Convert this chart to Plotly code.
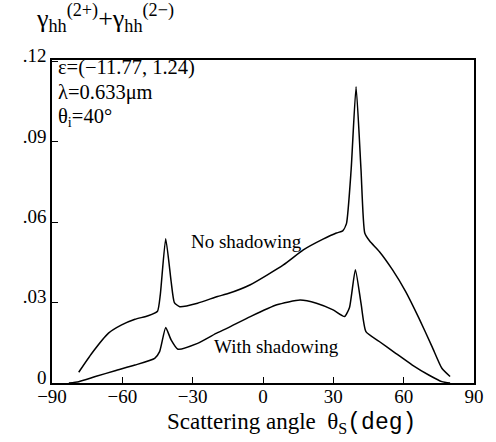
import plotly.graph_objects as go

# No shadowing curve
ns_x = [-78.6, -73.0, -65.9, -60.3, -54.6, -49.0, -45.0, -43.8, -41.5, -39.2, -37.8, -35.5, -27.9,
        -19.4, -15.2, -5.4, 8.7, 17.2, 25.6, 31.3, 34.0, 35.6, 37.6, 39.7, 41.8, 43.4,
        45.5, 49.6, 55.2, 60.8, 66.5, 72.1, 76.3, 79.8]
ns_y = [0.0040, 0.0111, 0.0186, 0.0217, 0.0238, 0.0251, 0.0268, 0.0330, 0.0539, 0.0380, 0.0300, 0.0285, 0.0298,
        0.0323, 0.0333, 0.0367, 0.0441, 0.0497, 0.0537, 0.0560, 0.0568, 0.0595, 0.0797, 0.1106, 0.0797, 0.0560,
        0.0530, 0.0491, 0.0423, 0.0342, 0.0242, 0.0136, 0.0055, 0.0024]

# With shadowing curve
ws_x = [-82.8, -78.6, -71.5, -63.1, -54.6, -46.2, -44.1, -41.5, -39.2, -36.3, -27.9,
        -19.4, -15.2, -5.4, 5.9, 15.8, 22.8, 29.9, 34.8, 36.9, 39.4, 41.8, 43.9,
        49.6, 56.6, 63.7, 70.7, 76.3, 79.8]
ws_y = [0.0, 0.0005, 0.0024, 0.0046, 0.0067, 0.0092, 0.0117, 0.0207, 0.0161, 0.0126, 0.0148,
        0.0188, 0.0205, 0.0248, 0.0292, 0.0310, 0.0298, 0.0273, 0.0248, 0.0282, 0.0423, 0.0298, 0.0192,
        0.0155, 0.0111, 0.0067, 0.0030, 0.0005, 0.0]

x_ticks = [-90, -60, -30, 0, 30, 60, 90]
x_ticklabels = ["−90", "−60", "−30", "0", "30", "60", "90"]
y_ticks = [0, 0.03, 0.06, 0.09, 0.12]
y_ticklabels = ["0", ".03", ".06", ".09", ".12"]

FONT = "Liberation Serif, Times New Roman, serif"
MONO = "Liberation Mono, Courier New, monospace"

fig = go.Figure()
fig.add_trace(go.Scatter(x=ns_x, y=ns_y, mode="lines",
                         line=dict(color="black", width=1.5, shape="spline", smoothing=0.5)))
fig.add_trace(go.Scatter(x=ws_x, y=ws_y, mode="lines",
                         line=dict(color="black", width=1.5, shape="spline", smoothing=0.5)))

fig.update_layout(
    width=496, height=442,
    margin=dict(l=52, r=18, t=60, b=59),
    paper_bgcolor="white", plot_bgcolor="white",
    showlegend=False,
    font=dict(family=FONT, color="black", size=18),
    xaxis=dict(range=[-90, 90], tickvals=x_ticks, ticktext=x_ticklabels,
               ticks="inside", ticklen=6, tickwidth=1, tickcolor="black",
               showline=True, linecolor="black", linewidth=1.5, mirror=True,
               showgrid=False, zeroline=False, ticklabelstandoff=-5,
               tickfont=dict(family=FONT, size=19)),
    yaxis=dict(range=[0, 0.1206], tickvals=y_ticks, ticktext=y_ticklabels,
               ticks="inside", ticklen=6, tickwidth=1, tickcolor="black",
               showline=True, linecolor="black", linewidth=1.5, mirror=True,
               showgrid=False, zeroline=False, ticklabelshift=-6,
               tickfont=dict(family=FONT, size=19)),
)

def px2paper(px, py):
    return (px - 52) / 426, 1 - (py - 60) / 323

ann = [
    dict(text="γ<sub>hh</sub><sup>(2+)</sup>+γ<sub>hh</sub><sup>(2−)</sup>", x=34, y=18, size=26),
    dict(text="ε=(−11.77, 1.24)", x=56, y=68, size=20.5),
    dict(text="λ=0.633μm", x=56, y=93, size=20.5),
    dict(text="θ<sub>i</sub>=40°", x=56, y=118, size=20.5),
    dict(text="Scattering angle  θ<sub>S</sub><span style=\"font-family:" + MONO + "\">(deg)</span>",
         x=166, y=423, size=23),
]
for a in ann:
    ax, ay = px2paper(a["x"], a["y"])
    fig.add_annotation(text=a["text"], xref="paper", yref="paper", x=ax, y=ay,
                       xanchor="left", yanchor="middle", showarrow=False,
                       font=dict(family=FONT, size=a["size"], color="black"))

fig.add_annotation(text="No shadowing", x=-7.2, y=0.0527, xref="x", yref="y", showarrow=False,
                   xanchor="center", yanchor="middle", font=dict(family=FONT, size=19, color="black"))
fig.add_annotation(text="With shadowing", x=5.9, y=0.0135, xref="x", yref="y", showarrow=False,
                   xanchor="center", yanchor="middle", font=dict(family=FONT, size=19, color="black"))

fig.write_html("out.html")
